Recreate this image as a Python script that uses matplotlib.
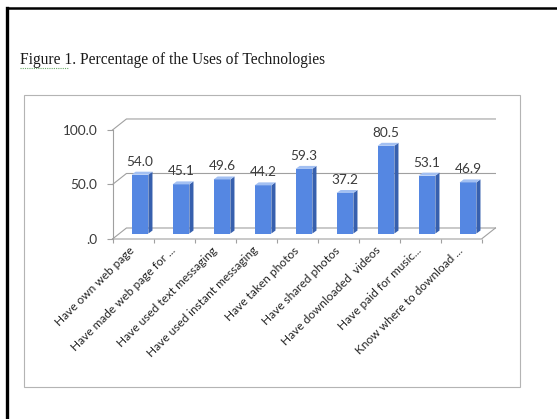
import numpy as np
import matplotlib.pyplot as plt
from matplotlib.patches import Polygon, Rectangle
from matplotlib.lines import Line2D

plt.rcParams['font.family'] = ['Lato', 'DejaVu Sans']

uses = ['Have own web page', 'Have made web page for ...', 'Have used text messaging',
        'Have used instant messaging', 'Have taken photos', 'Have shared photos',
        'Have downloaded  videos', 'Have paid for music...', 'Know where to download ...']
percent = [54.0, 45.1, 49.6, 44.2, 59.3, 37.2, 80.5, 53.1, 46.9]
y_ticks = [0, 50, 100]
y_labels = ['.0', '50.0', '100.0']

W, H = 557, 419
fig = plt.figure(figsize=(W / 100, H / 100), dpi=100)
fig.patch.set_facecolor('white')


def fx(px):
    return px / W


def fy(py):
    return 1 - py / H


# page border
fig.add_artist(Line2D([fx(7), fx(7)], [fy(8), 0], color='black', lw=2.4))
fig.add_artist(Line2D([fx(7), 1], [fy(8), fy(8)], color='black', lw=1.8))

fig.text(fx(20), fy(60), 'Figure 1. Percentage of the Uses of Technologies',
         family='Liberation Serif', fontsize=11.2, va='center', ha='left', color='#1a1a1a')
fig.add_artist(Line2D([fx(20), fx(68)], [fy(68), fy(68)], color='#6aaa6a', lw=0.8, ls=(0, (1, 1))))

# chart area frame
fig.add_artist(Rectangle((fx(24), fy(387)), fx(520) - fx(24), fy(95) - fy(387),
                         fill=False, ec='#b4b4b4', lw=0.8))

ax = fig.add_axes([fx(112.5), fy(239), fx(497.9) - fx(112.5), fy(118) - fy(239)])
ax.set_xlim(-0.5, 8.9)
ax.set_ylim(0, 111)
ax.patch.set_alpha(0)
for s in ax.spines.values():
    s.set_visible(False)

grid = '#a0a0a0'
DX, DY = 0.34, 10.1      # depth of the floor / walls
BX, BY = 0.17, 5.0       # bars sit half way back
bw = 0.41
bdx, bdy = 0.1, 2.75     # bar depth

# walls and gridlines
for v in y_ticks:
    ax.plot([-0.5, -0.5 + DX, 8.5 + DX], [v, v + DY, v + DY], color=grid, lw=0.8, clip_on=False)
ax.plot([-0.5, 8.5, 8.5 + DX], [0, 0, DY], color=grid, lw=0.8, clip_on=False)
ax.plot([-0.5, -0.5], [0, 100], color=grid, lw=0.8, clip_on=False)

front = '#5587e2'
side = '#3760ae'
top = '#a3c0f2'
x = np.arange(len(percent)) + BX
ax.bar(x, percent, width=bw, bottom=BY, color=front, zorder=3)
for xc, v in zip(x, percent):
    x0, x1 = xc - bw / 2, xc + bw / 2
    y1 = BY + v
    ax.add_patch(Polygon([(x1, BY), (x1 + bdx, BY + bdy), (x1 + bdx, y1 + bdy), (x1, y1)],
                         closed=True, fc=side, ec='none', zorder=3))
    ax.add_patch(Polygon([(x0, y1), (x0 + bdx, y1 + bdy), (x1 + bdx, y1 + bdy), (x1, y1)],
                         closed=True, fc=top, ec='none', zorder=3))
    ax.annotate(f'{v:.1f}', (xc, y1 + bdy), xytext=(0, 3), textcoords='offset points',
                ha='center', va='bottom', fontsize=9.8, color='#3a3a3a', zorder=4)

ax.set_yticks(y_ticks, y_labels)
ax.tick_params(axis='y', length=4, width=0.8, color=grid, pad=7, labelsize=9.8, labelcolor='#3a3a3a')

ax.set_xticks(np.arange(len(uses)), uses, rotation=45, ha='right', va='center', rotation_mode='anchor')
ax.set_xticks(np.arange(-0.5, len(uses), 1), minor=True)
ax.tick_params(axis='x', which='major', length=0, pad=7, labelsize=8.6, labelcolor='#262626')
ax.tick_params(axis='x', which='minor', length=3, width=0.8, color=grid)

fig.savefig('out.png', dpi=100)
